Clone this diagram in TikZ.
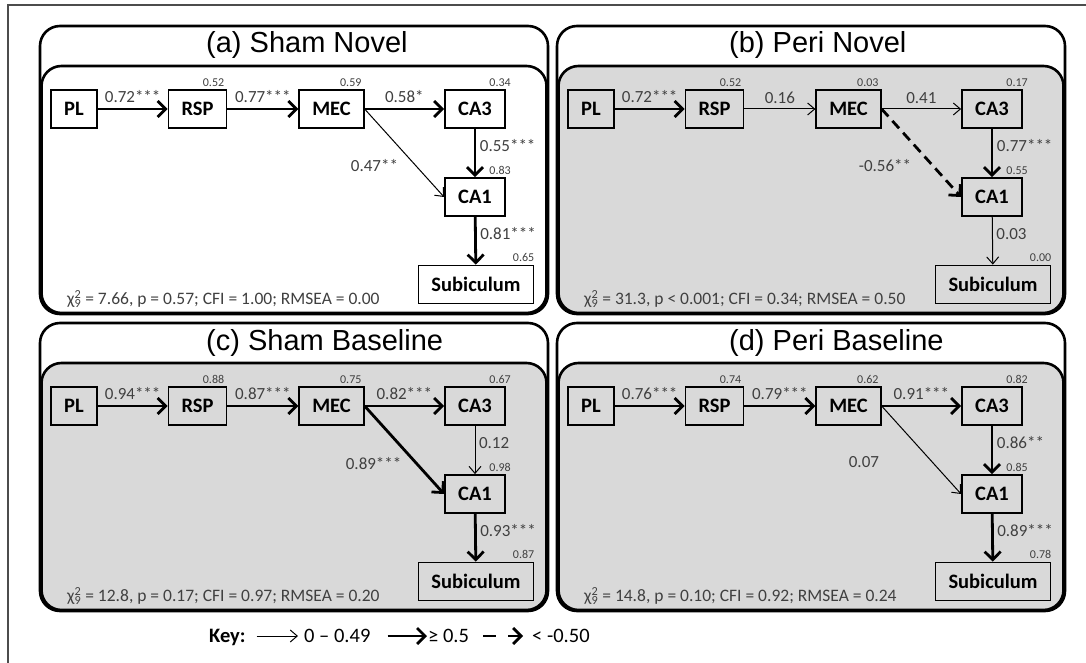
\documentclass[tikz,border=0pt]{standalone}
\usepackage{fontspec}
\setmainfont{Carlito}
\newfontfamily\arialfont{Liberation Sans}
\usetikzlibrary{arrows.meta}
\definecolor{panelgray}{RGB}{217,217,217}
\definecolor{txtgray}{RGB}{64,64,64}
\tikzset{
  frame/.style={draw=black!70, line width=1.2pt},
  panel/.style={draw, line width=2.6pt, rounded corners=20pt},
  title/.style={font=\arialfont\fontsize{29}{34}\selectfont, anchor=base west, inner sep=0pt},
  region/.style={draw, line width=1.8pt, minimum height=38pt, inner xsep=13pt,
    font=\bfseries\fontsize{20.5}{24}\selectfont},
  coef/.style={font=\fontsize{17}{20}\selectfont, text=txtgray, inner sep=1pt},
  rsq/.style={font=\fontsize{12}{14}\selectfont, text=txtgray, anchor=base east, inner sep=0pt},
  stats/.style={font=\fontsize{17.5}{20}\selectfont, text=txtgray, anchor=base west, inner sep=0pt},
  keytxt/.style={font=\fontsize{20.5}{24}\selectfont, anchor=west, inner sep=0pt,
    text height=14pt, text depth=2pt},
  strong/.style={draw, line width=2.8pt, -{Straight Barb[length=8pt,width=16pt]}},
  weak/.style={draw, line width=1pt, -{Straight Barb[length=7pt,width=12pt]}},
  negative/.style={strong, dash pattern=on 10pt off 6pt},
}
\newcommand\chisq{χ\rlap{\textsuperscript{2}}\textsubscript{9}}
\begin{document}
\begin{tikzpicture}[x=1pt,y=-1pt]
\useasboundingbox (0,0) rectangle (1086,663);
\draw[frame] (8,663) |- (1086,5);

% (a) Sham Novel
\begin{scope}[shift={(40,26)}]
  \draw[panel, fill=white] (0,0) rectangle (508,288);
  \draw[panel, fill=white] (1.5,40) rectangle (506.5,287);
  \node[title] (aT) at (166,27) {(a) Sham Novel};
  \begin{scope}[every node/.style={region}]
    \node (aPL)  at (34,83) {PL};
    \node (aRSP) at (157.5,83) {RSP};
    \node (aMEC) at (291.5,83) {MEC};
    \node[minimum width=60pt] (aCA3) at (435,83) {CA3};
    \node[minimum width=60pt] (aCA1) at (435,171) {CA1};
    \node (aSub) at (436,258.5) {Subiculum};
  \end{scope}
  \node[rsq] (aR1) at ([shift={(-3,-3)}]aRSP.north east) {0.52};
  \node[rsq] (aR2) at ([shift={(-3,-3)}]aMEC.north east) {0.59};
  \node[rsq] (aR3) at ([shift={(5,-3)}]aCA3.north east) {0.34};
  \node[rsq] (aR4) at ([shift={(5,-3)}]aCA1.north east) {0.83};
  \node[rsq] (aR5) at ([shift={(0,-3)}]aSub.north east) {0.65};
  \node[stats] (aFit) at (27,278.5) {\chisq{} = 7.66, p = 0.57; CFI = 1.00; RMSEA = 0.00};
  \path
    (aPL) edge[strong] node[coef, above=4pt] {0.72***} (aRSP)
    (aRSP) edge[strong] node[coef, above=4pt] {0.77***} (aMEC)
    (aMEC) edge[strong] node[coef, above=4pt] {0.58*} (aCA3)
    (aCA3) edge[strong] node[coef, right=2.5pt, pos=0.35] {0.55***} (aCA1)
    (aMEC.east) edge[weak] node[coef, left=16pt, pos=0.64] {0.47**} (aCA1.west)
    (aCA1) edge[strong] node[coef, right=2.5pt, pos=0.35] {0.81***} (aSub);
\end{scope}

% (b) Peri Novel
\begin{scope}[shift={(557,26)}]
  \draw[panel, fill=white] (0,0) rectangle (508,288);
  \draw[panel, fill=panelgray] (1.5,40) rectangle (506.5,287);
  \node[title] (bT) at (172,27) {(b) Peri Novel};
  \begin{scope}[every node/.style={region}]
    \node (bPL)  at (34,83) {PL};
    \node (bRSP) at (157.5,83) {RSP};
    \node (bMEC) at (291.5,83) {MEC};
    \node[minimum width=60pt] (bCA3) at (435,83) {CA3};
    \node[minimum width=60pt] (bCA1) at (435,171) {CA1};
    \node (bSub) at (436,258.5) {Subiculum};
  \end{scope}
  \node[rsq] (bR1) at ([shift={(-3,-3)}]bRSP.north east) {0.52};
  \node[rsq] (bR2) at ([shift={(-3,-3)}]bMEC.north east) {0.03};
  \node[rsq] (bR3) at ([shift={(5,-3)}]bCA3.north east) {0.17};
  \node[rsq] (bR4) at ([shift={(5,-3)}]bCA1.north east) {0.55};
  \node[rsq] (bR5) at ([shift={(0,-3)}]bSub.north east) {0.00};
  \node[stats] (bFit) at (27,278.5) {\chisq{} = 31.3, p < 0.001; CFI = 0.34; RMSEA = 0.50};
  \path
    (bPL) edge[strong] node[coef, above=4pt] {0.72***} (bRSP)
    (bRSP) edge[weak] node[coef, above=4pt] {0.16} (bMEC)
    (bMEC) edge[weak] node[coef, above=4pt] {0.41} (bCA3)
    (bCA3) edge[strong] node[coef, right=2.5pt, pos=0.35] {0.77***} (bCA1)
    (bMEC.east) edge[negative] node[coef, left=19pt, pos=0.64] {-0.56**} (bCA1.west)
    (bCA1) edge[weak] node[coef, right=2.5pt, pos=0.35] {0.03} (bSub);
\end{scope}

% (c) Sham Baseline
\begin{scope}[shift={(40,323)}]
  \draw[panel, fill=white] (0,0) rectangle (508,288);
  \draw[panel, fill=panelgray] (1.5,40) rectangle (506.5,287);
  \node[title] (cT) at (166,27) {(c) Sham Baseline};
  \begin{scope}[every node/.style={region}]
    \node (cPL)  at (34,83) {PL};
    \node (cRSP) at (157.5,83) {RSP};
    \node (cMEC) at (291.5,83) {MEC};
    \node[minimum width=60pt] (cCA3) at (435,83) {CA3};
    \node[minimum width=60pt] (cCA1) at (435,171) {CA1};
    \node (cSub) at (436,258.5) {Subiculum};
  \end{scope}
  \node[rsq] (cR1) at ([shift={(-3,-3)}]cRSP.north east) {0.88};
  \node[rsq] (cR2) at ([shift={(-3,-3)}]cMEC.north east) {0.75};
  \node[rsq] (cR3) at ([shift={(5,-3)}]cCA3.north east) {0.67};
  \node[rsq] (cR4) at ([shift={(5,-3)}]cCA1.north east) {0.98};
  \node[rsq] (cR5) at ([shift={(0,-3)}]cSub.north east) {0.87};
  \node[stats] (cFit) at (27,278.5) {\chisq{} = 12.8, p = 0.17; CFI = 0.97; RMSEA = 0.20};
  \path
    (cPL) edge[strong] node[coef, above=4pt] {0.94***} (cRSP)
    (cRSP) edge[strong] node[coef, above=4pt] {0.87***} (cMEC)
    (cMEC) edge[strong] node[coef, above=4pt] {0.82***} (cCA3)
    (cCA3) edge[weak] node[coef, right=2.5pt, pos=0.35] {0.12} (cCA1)
    (cMEC.east) edge[strong] node[coef, left=12.5pt, pos=0.65] {0.89***} (cCA1.west)
    (cCA1) edge[strong] node[coef, right=2.5pt, pos=0.35] {0.93***} (cSub);
\end{scope}

% (d) Peri Baseline
\begin{scope}[shift={(557,323)}]
  \draw[panel, fill=white] (0,0) rectangle (508,288);
  \draw[panel, fill=panelgray] (1.5,40) rectangle (506.5,287);
  \node[title] (dT) at (172,27) {(d) Peri Baseline};
  \begin{scope}[every node/.style={region}]
    \node (dPL)  at (34,83) {PL};
    \node (dRSP) at (157.5,83) {RSP};
    \node (dMEC) at (291.5,83) {MEC};
    \node[minimum width=60pt] (dCA3) at (435,83) {CA3};
    \node[minimum width=60pt] (dCA1) at (435,171) {CA1};
    \node (dSub) at (436,258.5) {Subiculum};
  \end{scope}
  \node[rsq] (dR1) at ([shift={(-3,-3)}]dRSP.north east) {0.74};
  \node[rsq] (dR2) at ([shift={(-3,-3)}]dMEC.north east) {0.62};
  \node[rsq] (dR3) at ([shift={(5,-3)}]dCA3.north east) {0.82};
  \node[rsq] (dR4) at ([shift={(5,-3)}]dCA1.north east) {0.85};
  \node[rsq] (dR5) at ([shift={(0,-3)}]dSub.north east) {0.78};
  \node[stats] (dFit) at (27,278.5) {\chisq{} = 14.8, p = 0.10; CFI = 0.92; RMSEA = 0.24};
  \path
    (dPL) edge[strong] node[coef, above=4pt] {0.76***} (dRSP)
    (dRSP) edge[strong] node[coef, above=4pt] {0.79***} (dMEC)
    (dMEC) edge[strong] node[coef, above=4pt] {0.91***} (dCA3)
    (dCA3) edge[strong] node[coef, right=2.5pt, pos=0.35] {0.86**} (dCA1)
    (dMEC.east) edge[weak] node[coef, left=52pt, pos=0.64] {0.07} (dCA1.west)
    (dCA1) edge[strong] node[coef, right=2.5pt, pos=0.35] {0.89***} (dSub);
\end{scope}

% key
\node[keytxt, font=\bfseries\fontsize{20.5}{24}\selectfont] (key) at (209,636) {Key:};
\node[keytxt] (k1) at (304,636) {0 – 0.49};
\node[keytxt] (k2) at (428,636) {≥ 0.5};
\node[keytxt] (k3) at (532,636) {< -0.50};
\path
  (key) edge[weak, shorten <=11pt, shorten >=6pt] (k1)
  (k1) edge[strong, shorten <=17pt, shorten >=1pt] (k2)
  (k2) edge[strong, dash pattern=on 13pt off 12pt, shorten <=14pt, shorten >=9pt] (k3);
\end{tikzpicture}
\end{document}
